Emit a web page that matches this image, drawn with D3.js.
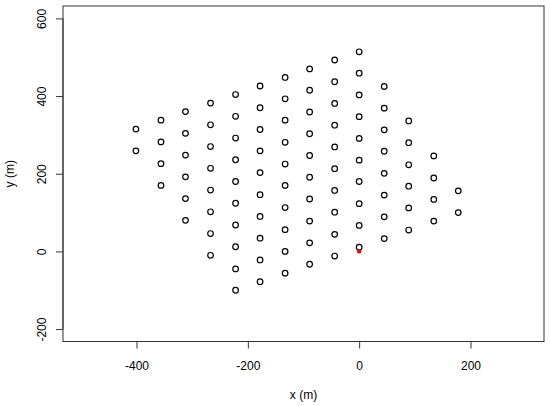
<!DOCTYPE html>
<html>
<head>
<meta charset="utf-8">
<script src="https://cdn.jsdelivr.net/npm/d3@7"></script>
<style>
  html, body { margin: 0; padding: 0; background: #fff; }
  svg text { font-family: "Liberation Sans", Arial, Helvetica, sans-serif; }
</style>
</head>
<body>
<svg id="chart" width="550" height="406"></svg>
<script>
// Column x positions (m) and y positions of points in each column
const columnX = [-401, -356, -312, -267, -222, -178, -133, -89, -44, 0, 45, 89, 134, 178];
const columnY = [
  [315, 259],
  [338, 282, 226, 170],
  [360, 304, 248, 192, 136, 80],
  [382, 326, 270, 214, 158, 102, 46, -10],
  [404, 348, 292, 236, 180, 124, 68, 12, -45, -100],
  [426, 370, 314, 259, 203, 146, 90, 34, -22, -78],
  [448, 393, 338, 281, 225, 170, 113, 56, 0, -56],
  [470, 415, 359, 303, 247, 191, 135, 78, 22, -33],
  [493, 437, 381, 325, 269, 213, 157, 101, 44, -12],
  [514, 459, 403, 347, 291, 235, 180, 123, 67, 11],
  [425, 369, 313, 258, 201, 145, 89, 33],
  [336, 280, 223, 168, 112, 55],
  [246, 189, 134, 78],
  [156, 100]
];
// Reference point (red)
const refX = [0];
const refY = [0];

const xTicks = [-400, -200, 0, 200];
const yTicks = [-200, 0, 200, 400, 600];
const xLim = [-500, 300];
const yLim = [-200, 600];
const xLabel = "x (m)";
const yLabel = "y (m)";

(function () {
const points = [];
columnX.forEach((cx, i) => columnY[i].forEach(cy => points.push({x: cx, y: cy})));
const refPoints = refX.map((x, i) => ({x: x, y: refY[i]}));

const svg = d3.select("#chart");
const mLeft = 63, mRight = 544, mTop = 6, mBottom = 341.5;

// R-style 4% expansion
const ex = (xLim[1] - xLim[0]) * 0.04, ey = (yLim[1] - yLim[0]) * 0.04;
const x = d3.scaleLinear().domain([xLim[0] - ex, xLim[1] + ex]).range([mLeft, mRight]);
const y = d3.scaleLinear().domain([yLim[0] - ey, yLim[1] + ey]).range([mBottom, mTop]);

// Points
svg.append("g").selectAll("circle").data(points).join("circle")
  .attr("cx", d => x(d.x)).attr("cy", d => y(d.y)).attr("r", 2.8)
  .attr("fill", "none").attr("stroke", "#000").attr("stroke-width", 1.2);

svg.append("g").selectAll("circle").data(refPoints).join("circle")
  .attr("cx", d => x(d.x)).attr("cy", d => y(d.y)).attr("r", 2.2)
  .attr("fill", "#ff0000").attr("stroke", "none");

// Axes
const xAxis = d3.axisBottom(x).tickValues(xTicks).tickSize(7).tickPadding(4).tickFormat(d3.format("d"));
const gx = svg.append("g").attr("transform", `translate(0,${mBottom})`).call(xAxis);
gx.select(".domain").attr("d", `M${x(xTicks[0])},0H${x(xTicks[xTicks.length-1])}`).attr("stroke", "#333");
gx.selectAll(".tick line").attr("stroke", "#333");
gx.selectAll(".tick text").attr("font-size", 12).attr("fill", "#000")
  .attr("font-family", "Liberation Sans, Arial, sans-serif")
  .text(d => d < 0 ? "-" + Math.abs(d) : d).attr("y", 28.5).attr("dy", 0);

const yAxis = d3.axisLeft(y).tickValues(yTicks).tickSize(7).tickFormat(d3.format("d"));
const gy = svg.append("g").attr("transform", `translate(${mLeft},0)`).call(yAxis);
gy.select(".domain").attr("d", `M0,${y(yTicks[0])}V${y(yTicks[yTicks.length-1])}`).attr("stroke", "#333");
gy.selectAll(".tick line").attr("stroke", "#333");
gy.selectAll(".tick text").attr("font-size", 12).attr("fill", "#000")
  .attr("font-family", "Liberation Sans, Arial, sans-serif")
  .text(d => d < 0 ? "-" + Math.abs(d) : d)
  .attr("x", null).attr("dy", null)
  .attr("text-anchor", "middle")
  .attr("transform", "translate(-17,0) rotate(-90)");

// Box
svg.append("rect").attr("x", mLeft).attr("y", mTop)
  .attr("width", mRight - mLeft).attr("height", mBottom - mTop)
  .attr("fill", "none").attr("stroke", "#333").attr("stroke-width", 1);

// Labels
svg.append("text").attr("x", (mLeft + mRight) / 2).attr("y", 399)
  .attr("text-anchor", "middle").attr("font-size", 12).text(xLabel);
svg.append("text").attr("transform", `translate(14,${(mTop + mBottom) / 2}) rotate(-90)`)
  .attr("text-anchor", "middle").attr("font-size", 12).text(yLabel);
})();
</script>
</body>
</html>
